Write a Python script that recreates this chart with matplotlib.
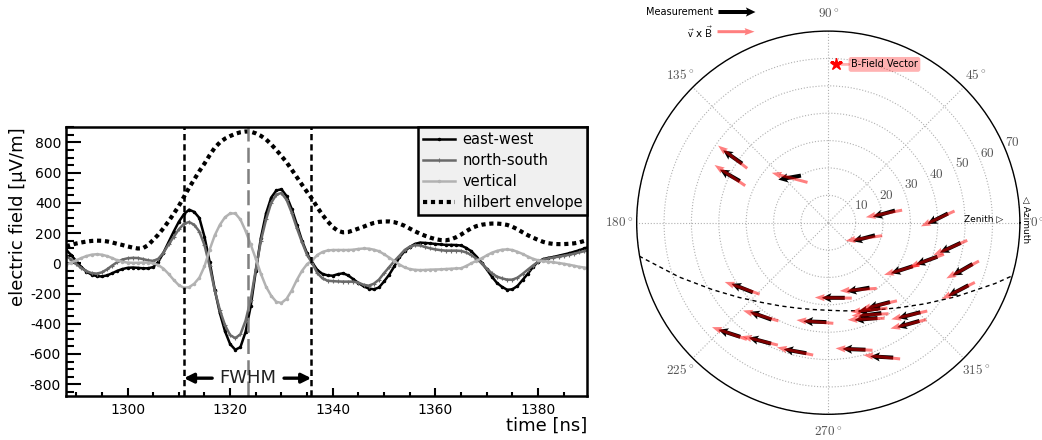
import numpy as np
import matplotlib
matplotlib.use("Agg")
import matplotlib.pyplot as plt
from matplotlib.ticker import MultipleLocator

plt.rcParams["font.family"] = ["DejaVu Sans"]
plt.rcParams["axes.unicode_minus"] = False
plt.rcParams["mathtext.fontset"] = "cm"

# ---------------- waveform data (1 ns steps) ----------------
time_ns = np.arange(1288, 1391)
east_west = [
    90, 55, 15, -25, -55, -75, -85, -87, -80, -66,
    -50, -38, -30, -28, -30, -33, -33, -25, 10, 70,
    140, 210, 275, 325, 355, 340, 300, 175, 10, -175,
    -330, -450, -535, -572, -555, -455, -285, -50, 170, 330,
    435, 482, 490, 445, 360, 256, 150, 65, 5, -45,
    -70, -80, -82, -72, -66, -80, -105, -130, -152, -167,
    -172, -160, -120, -75, -20, 40, 80, 108, 128, 137,
    135, 132, 128, 125, 122, 122, 121, 118, 102, 80,
    45, 5, -40, -88, -130, -156, -175, -172, -150, -110,
    -70, -25, 10, 28, 36, 42, 50, 58, 66, 76,
    86, 98, 110]
north_south = [
    50, 25, -5, -32, -52, -65, -68, -60, -40, -15,
    8, 25, 33, 36, 35, 28, 20, 16, 30, 70,
    125, 175, 225, 262, 273, 255, 210, 120, -20, -180,
    -310, -410, -475, -495, -470, -380, -240, -40, 150, 290,
    400, 455, 465, 420, 335, 233, 140, 55, 0, -65,
    -100, -115, -118, -120, -121, -121, -121, -128, -142, -148,
    -135, -108, -65, -25, 15, 50, 88, 110, 120, 118,
    108, 99, 92, 87, 84, 84, 84, 82, 72, 55,
    30, 0, -35, -66, -88, -100, -108, -108, -95, -70,
    -42, -15, 10, 25, 32, 38, 44, 50, 56, 64,
    72, 80, 88]
vertical = [
    -10, 5, 20, 35, 48, 57, 60, 57, 48, 35,
    20, 10, 5, 3, 3, 5, 5, 0, -12, -35,
    -70, -110, -145, -162, -158, -135, -95, -20, 90, 185,
    255, 305, 330, 330, 290, 215, 125, 30, -70, -155,
    -215, -255, -262, -235, -180, -110, -50, -5, 20, 55,
    75, 85, 88, 88, 88, 88, 90, 95, 98, 97,
    90, 80, 60, 38, 15, -8, -27, -38, -43, -45,
    -44, -42, -41, -40, -38, -36, -34, -33, -18, 0,
    17, 33, 52, 70, 82, 90, 92, 88, 76, 62,
    45, 30, 20, 14, 11, 7, 2, -3, -9, -16,
    -23, -28, -33]
envelope = [
    112, 122, 131, 138, 144, 148, 150, 149, 145, 138,
    129, 121, 112, 104, 98, 100, 120, 155, 190, 232,
    278, 328, 380, 440, 500, 555, 610, 660, 715, 765,
    800, 825, 842, 857, 867, 872, 871, 860, 843, 820,
    787, 750, 710, 668, 620, 570, 520, 472, 425, 370,
    320, 278, 240, 215, 205, 207, 218, 230, 242, 256,
    267, 274, 277, 277, 272, 262, 248, 230, 212, 196,
    182, 170, 160, 154, 152, 158, 172, 190, 212, 232,
    246, 255, 260, 263, 263, 260, 254, 242, 225, 205,
    186, 170, 155, 142, 133, 128, 127, 127, 129, 132,
    138, 148, 160]
fwhm_lo, fwhm_hi, t_peak = 1311.0, 1335.8, 1323.5
fwhm_y = -760

# ---------------- polarisation map data ----------------
ev_az = [145.5, 154.3, 130.6, 9.2, 2.1, 336.4, 348.4, 338.9, 327.4, 340.7,
         332.4, 217.2, 294.1, 273.8, 234.0, 262.3, 301.6, 295.0, 294.4, 291.4,
         311.2, 308.3, 228.2, 239.9, 255.5, 281.5, 291.7]
ev_zen = [42.4, 39.9, 21.7, 20.6, 40.0, 14.2, 45.5, 38.5, 31.9, 52.0,
          53.6, 39.5, 26.8, 27.5, 42.0, 36.5, 35.3, 35.2, 36.9, 37.8,
          44.9, 47.2, 54.2, 49.8, 48.5, 47.2, 52.8]
vxb_dir = [142, 146, 165, 191, 204.5, 188, 203.5, 200, 196, 208,
           206.6, 160.7, 184, 179, 163.7, 175, 193, 186, 183, 182.5,
           193, 194, 160.6, 166, 168, 177, 174]
meas_dir = [145, 150, 190, 196, 207, 195, 205, 200, 198, 210,
            208, 158, 190, 180, 160, 178, 195, 190, 188, 185,
            195, 196, 162, 165, 170, 178, 177]
bfield_az, bfield_zen = 87.3, 57.9
# directions perpendicular to B (dashed line)
perp_az = [190, 200, 210, 220, 230, 240, 250, 260, 270, 280, 290, 300,
           310, 320, 330, 340, 345]
perp_zen = [70.2, 58.0, 48.9, 42.5, 38.0, 35.1, 33.2, 32.2, 32.0, 32.7, 34.2,
            36.7, 40.5, 46.1, 54.0, 64.9, 71.6]
theta_ticks = [0, 45, 90, 135, 180, 225, 270, 315]
theta_labels = [r"$0^\circ$", r"$45^\circ$", r"$90^\circ$", r"$135^\circ$",
                r"$180^\circ$", r"$225^\circ$", r"$270^\circ$", r"$315^\circ$"]
r_ticks = [10, 20, 30, 40, 50, 60, 70]

fig = plt.figure(figsize=(10.42, 4.40), dpi=100)

# ================= left: traces =================
ax = fig.add_axes([0.0633, 0.10, 0.5003, 0.6107])
ax.plot(time_ns, east_west, color="black", lw=1.8, marker=".", ms=3, label="east-west")
ax.plot(time_ns, north_south, color="#6a6a6a", lw=1.8, marker="+", ms=3, mew=0.8,
        label="north-south")
ax.plot(time_ns, vertical, color="#b2b2b2", lw=1.8, marker=".", ms=3, label="vertical")
ax.plot(time_ns, envelope, color="black", lw=3.0, ls=(0, (1.0, 0.9)),
        label="hilbert envelope")

ax.axvline(fwhm_lo, color="black", lw=1.8, ls=(0, (2.5, 1.6)))
ax.axvline(fwhm_hi, color="black", lw=1.8, ls=(0, (2.5, 1.6)))
ax.axvline(t_peak, color="#808080", lw=1.8, ls=(0, (6, 2.5)))

ax.annotate("", xy=(fwhm_lo, fwhm_y), xytext=(t_peak - 7, fwhm_y),
            arrowprops=dict(arrowstyle="-|>", lw=2.4, color="black",
                            mutation_scale=14, shrinkA=0, shrinkB=0))
ax.annotate("", xy=(fwhm_hi, fwhm_y), xytext=(t_peak + 7, fwhm_y),
            arrowprops=dict(arrowstyle="-|>", lw=2.4, color="black",
                            mutation_scale=14, shrinkA=0, shrinkB=0))
ax.text(t_peak, fwhm_y, "FWHM", ha="center", va="center", fontsize=13, color="#222222")

ax.set_xlim(1288, 1389.6)
ax.set_ylim(-878, 900)
ax.xaxis.set_major_locator(MultipleLocator(20))
ax.xaxis.set_minor_locator(MultipleLocator(5))
ax.yaxis.set_major_locator(MultipleLocator(200))
ax.yaxis.set_minor_locator(MultipleLocator(50))
ax.tick_params(axis="both", which="both", direction="in", top=False, right=False,
               labelsize=10, width=1.5)
ax.tick_params(axis="y", which="major", length=11)
ax.tick_params(axis="y", which="minor", length=5.5)
ax.tick_params(axis="x", which="major", length=6, pad=5)
ax.tick_params(axis="x", which="minor", length=3)
for sp in ax.spines.values():
    sp.set_linewidth(1.8)
ax.set_ylabel("electric field [\u03bcV/m]", fontsize=13, loc="top", labelpad=2)
ax.set_xlabel("time [ns]", fontsize=13, loc="right", labelpad=0)

leg = ax.legend(loc="upper right", bbox_to_anchor=(1.0, 1.0), borderaxespad=0,
                fancybox=False, framealpha=1, facecolor="#f0f0f0", edgecolor="black",
                fontsize=10.5, handlelength=2.2, handletextpad=0.5, labelspacing=0.4,
                borderpad=0.35)
leg.get_frame().set_linewidth(1.8)

# ================= right: polar map =================
axp = fig.add_axes([0.611, 0.0584, 0.3678, 0.8709], projection="polar")
axp.set_ylim(0, 70)
axp.set_rticks(r_ticks)
axp.set_yticklabels([rf"${r}$" for r in r_ticks], fontsize=9.5, color="#555555")
axp.set_rlabel_position(22.5)
axp.set_thetagrids(theta_ticks, theta_labels, fontsize=9.5, color="#555555")
axp.tick_params(axis="x", pad=2)
axp.grid(True, ls=":", color="#b0b0b0", lw=0.8)
axp.spines["polar"].set_linewidth(1.0)

axp.plot(np.radians(perp_az), perp_zen, color="black", lw=1.0, ls=(0, (3, 2.5)))

th = np.radians(ev_az)
mrad = np.radians(meas_dir)
vrad = np.radians(vxb_dir)
q_meas = axp.quiver(th, ev_zen, np.cos(mrad), np.sin(mrad), color="black",
                    angles="uv", units="dots", scale_units="dots", scale=1 / 23.0,
                    width=4, headwidth=2.3, headlength=2.4, headaxislength=2.1,
                    pivot="middle", zorder=4)
q_vxb = axp.quiver(th, ev_zen, np.cos(vrad), np.sin(vrad), color="red", alpha=0.5,
                   angles="uv", units="dots", scale_units="dots", scale=1 / 37.0,
                   width=3, headwidth=2.4, headlength=3.3, headaxislength=3.0,
                   pivot="middle", zorder=5)

axp.quiverkey(q_meas, 0.6895, 0.9727, 37 / 23.0, "Measurement", labelpos="W",
              coordinates="figure", labelsep=0.05, fontproperties={"size": 7})
axp.quiverkey(q_vxb, 0.6886, 0.928, 1.0, r"$\vec{\mathsf{v}}$ x $\vec{\mathsf{B}}$",
              labelpos="W", coordinates="figure", labelsep=0.05,
              fontproperties={"size": 7.5})

axp.plot(np.radians(bfield_az), bfield_zen, marker="*", color="red", ms=9, zorder=6)
axp.annotate("B-Field Vector", xy=(np.radians(bfield_az), bfield_zen),
             xytext=(11, 0), textcoords="offset points", ha="left", va="center",
             fontsize=7,
             bbox=dict(boxstyle="round,pad=0.25", fc=(1, 0, 0, 0.3), ec="none"),
             arrowprops=dict(arrowstyle="-", color=(1, 0, 0, 0.3), lw=2,
                             shrinkA=0, shrinkB=4))

axp.text(0.906, 0.509, "Zenith \u25b7", transform=axp.transAxes, ha="center",
         va="center", fontsize=6.5)
axp.text(1.014, 0.507, "\u25c1 Azimuth", transform=axp.transAxes, ha="center",
         va="center", fontsize=6.5, rotation=-90)

fig.savefig("out.png", dpi=100)
